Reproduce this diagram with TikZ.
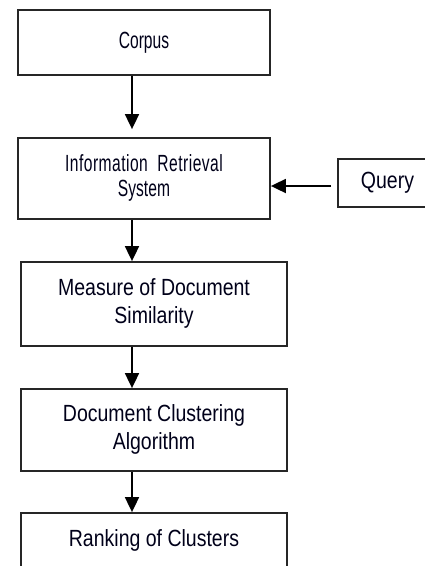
\documentclass[tikz,border=0pt]{standalone}
\usepackage{fontspec}
\setmainfont{Liberation Sans}
\usepackage{graphicx}
\usetikzlibrary{arrows.meta}

% text of a box, stretched upright like the scanned figure
\newcommand{\stagetext}[2]{\scalebox{#1}[1.2]{\begin{tabular}{@{}c@{}}#2\end{tabular}}}

\tikzset{
  stage/.style={draw=black!85, line width=1.8pt, inner sep=0pt,
    font=\fontsize{19.5}{23.3}\selectfont, text=black!90!blue},
  flow/.style={line width=1.8pt, -{Triangle[width=14pt,length=15pt]}}
}

\begin{document}
\begin{tikzpicture}[x=1pt,y=-1pt]
\useasboundingbox (0,0) rectangle (425,566);
\def\narrow{0.8}

% the boxes
\node[stage, minimum width=252pt, minimum height=65pt] (corpus) at (144,42.5)
	{\stagetext{\narrow}{Corpus}};
\node[stage, minimum width=252pt, minimum height=81pt] (irs) at (144,178.5)
	{\stagetext{\narrow}{{\addfontfeature{LetterSpace=3}Information\ \ Retrieval}\\[-2.5pt] System}};
\node[stage, minimum width=99pt, minimum height=48pt] (query) at (387.5,183)
	{\stagetext{1}{Query}};
\node[stage, minimum width=266pt, minimum height=84pt] (measure) at (154,304)
	{\stagetext{1}{Measure of Document\\Similarity}};
\node[stage, minimum width=266pt, minimum height=82pt] (clustering) at (154,430)
	{\stagetext{1}{Document Clustering\\Algorithm}};
\node[stage, minimum width=266pt, minimum height=55pt] (ranking) at (154,540.5)
	{\stagetext{1}{Ranking of Clusters}};

% the arrows
\coordinate (spine) at (132,0);
\coordinate (qline) at (0,186);
\coordinate (irtop) at ([yshift=8pt]irs.north);
\coordinate (qstart) at ([xshift=-6pt]query.west);

\draw[flow] (corpus.south -| spine) -- (irtop -| spine);
\draw[flow] (qstart |- qline) -- (irs.east |- qline);
\draw[flow] (irs.south -| spine) -- (measure.north -| spine);
\draw[flow] (measure.south -| spine) -- (clustering.north -| spine);
\draw[flow] (clustering.south -| spine) -- (ranking.north -| spine);

\end{tikzpicture}
\end{document}
